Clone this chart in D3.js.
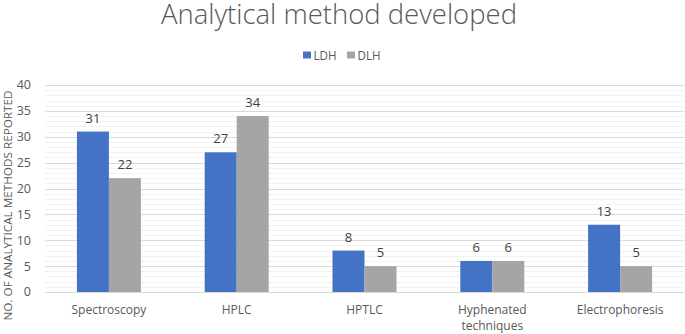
<!DOCTYPE html>
<html>
<head>
<meta charset="utf-8">
<script src="https://cdn.jsdelivr.net/npm/d3@7"></script>
<style>
  body { margin: 0; background: #fff; }
  text { font-family: "Open Sans", "Noto Sans", sans-serif; fill: #595959; }
</style>
</head>
<body>
<svg width="685" height="334"></svg>
<script>
// chart data
const categories = ['Spectroscopy', 'HPLC', 'HPTLC', 'Hyphenated techniques', 'Electrophoresis'];
const seriesNames = ['LDH', 'DLH'];
const ldhValues = [31, 27, 8, 6, 13];
const dlhValues = [22, 34, 5, 6, 5];
const yTicks = [0, 5, 10, 15, 20, 25, 30, 35, 40];

const colors = { LDH: '#4472C4', DLH: '#A5A5A5' };

const svg = d3.select('svg');
const margin = { left: 45, right: 1, top: 85, bottom: 42 };
const width = +svg.attr('width');
const height = +svg.attr('height');

const x = d3.scaleBand().domain(categories).range([margin.left, width - margin.right]);
const x1 = d3.scaleBand().domain(seriesNames).range([0, 64]);
const y = d3.scaleLinear().domain([0, 40]).range([height - margin.bottom, margin.top]);

// minor gridlines every 1
svg.append('g').selectAll('line').data(d3.range(0, 41).filter(v => v % 5 !== 0)).join('line')
  .attr('x1', margin.left).attr('x2', width - margin.right)
  .attr('y1', d => Math.round(y(d)) + 0.5).attr('y2', d => Math.round(y(d)) + 0.5)
  .attr('stroke', '#F2F2F2');

// major gridlines
svg.append('g').selectAll('line').data(yTicks).join('line')
  .attr('x1', margin.left).attr('x2', width - margin.right)
  .attr('y1', d => Math.round(y(d)) + 0.5).attr('y2', d => Math.round(y(d)) + 0.5)
  .attr('stroke', '#D9D9D9');

// y tick labels
svg.append('g').selectAll('text').data(yTicks).join('text')
  .attr('x', 31).attr('y', d => y(d)).attr('dy', '0.35em')
  .attr('text-anchor', 'end').style('font-size', '12.5px')
  .text(d => d);

// bars
const rows = categories.map((c, i) => ({ cat: c, vals: [
  { s: 'LDH', v: ldhValues[i] }, { s: 'DLH', v: dlhValues[i] }] }));

const groups = svg.append('g').selectAll('g').data(rows).join('g')
  .attr('transform', d => `translate(${x(d.cat) + x.bandwidth() / 2 - 32},0)`);

groups.selectAll('rect').data(d => d.vals).join('rect')
  .attr('x', d => x1(d.s)).attr('width', x1.bandwidth())
  .attr('y', d => y(d.v)).attr('height', d => y(0) - y(d.v))
  .attr('fill', d => colors[d.s]);

groups.selectAll('text').data(d => d.vals).join('text')
  .attr('x', d => x1(d.s) + x1.bandwidth() / 2).attr('y', d => y(d.v) - 9)
  .attr('text-anchor', 'middle').style('font-size', '13px').style('fill', '#404040')
  .text(d => d.v);

// category labels (wrapped into separate lines)
const catLines = categories.flatMap(c => {
  const parts = c === 'Hyphenated techniques' ? ['Hyphenated', 'techniques'] : [c];
  return parts.map((p, i) => ({ cat: c, text: p, line: i }));
});
svg.append('g').selectAll('text').data(catLines).join('text')
  .attr('x', d => x(d.cat) + x.bandwidth() / 2).attr('y', d => 314 + d.line * 16)
  .attr('text-anchor', 'middle').style('font-size', '12px')
  .text(d => d.text);

// y axis title
svg.append('text')
  .attr('transform', `translate(12,${(y(0) + y(40)) / 2 + 17}) rotate(-90)`)
  .attr('text-anchor', 'middle').style('font-size', '11.5px')
  .attr('textLength', 230).attr('lengthAdjust', 'spacingAndGlyphs')
  .text('NO. OF ANALYTICAL METHODS REPORTED');

// title
svg.append('text')
  .attr('x', 339).attr('y', 24).attr('text-anchor', 'middle')
  .attr('textLength', 356).attr('lengthAdjust', 'spacingAndGlyphs')
  .style('font-size', '28px').style('font-weight', 300)
  .text('Analytical method developed');

// legend
const legendX = [303, 347];
const legend = svg.append('g').attr('transform', 'translate(0,55)');
seriesNames.forEach((s, i) => {
  const g = legend.append('g').attr('transform', `translate(${legendX[i]},0)`);
  g.append('rect').attr('x', 0).attr('y', -3.5).attr('width', 8).attr('height', 7).attr('fill', colors[s]);
  g.append('text').attr('x', 10.5).attr('y', 0).attr('dy', '0.36em')
    .attr('textLength', 23).attr('lengthAdjust', 'spacingAndGlyphs')
    .style('font-size', '12.5px').text(s);
});
</script>
</body>
</html>
